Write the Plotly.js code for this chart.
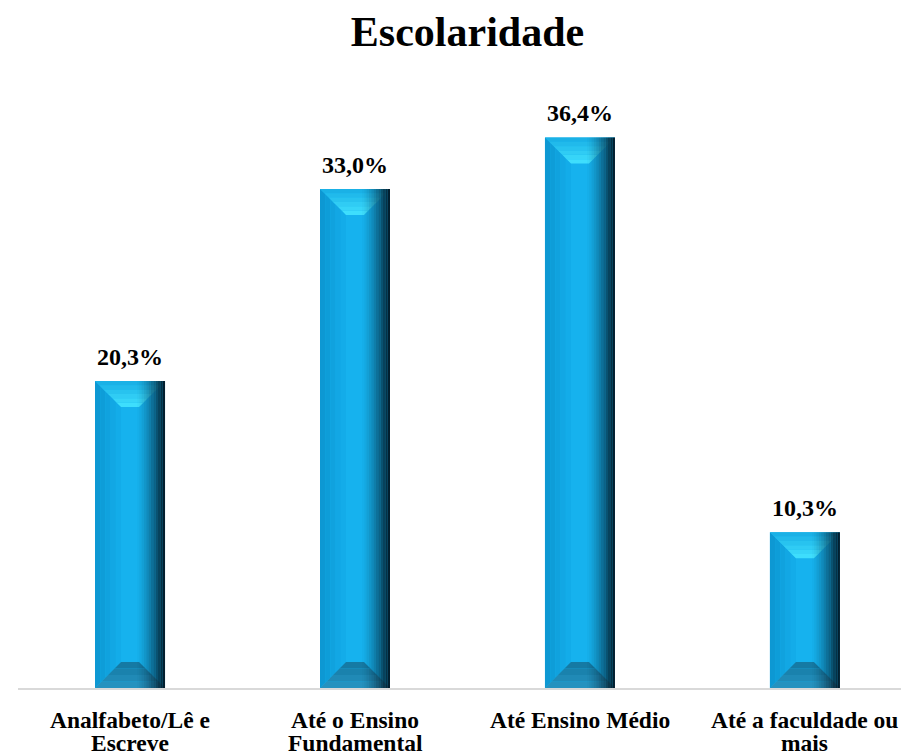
<!DOCTYPE html>
<html>
<head>
<meta charset="utf-8">
<script src="https://cdn.plot.ly/plotly-3.0.1.min.js"></script>
<style>html,body{margin:0;padding:0;background:#fff;}#chart{width:901px;height:755px;}</style>
</head>
<body>
<div id="chart"></div>
<script>
const categories = ["Analfabeto/Lê e<br>Escreve", "Até o Ensino<br>Fundamental", "Até Ensino Médio", "Até a faculdade ou<br>mais"];
const values = [20.3, 33.0, 36.4, 10.3];
const labels = values.map(v => v.toFixed(1).replace('.', ',') + '%');

const FONT = "'Liberation Serif', 'Times New Roman', Times, serif";
const W = 901, H = 755;
const M = {l: 18, r: 0, t: 80, b: 67};
const plotW = W - M.l - M.r, plotH = H - M.t - M.b;
const xRange = [-0.498, 3.427];
const yMax = 40.2;
const xPerPx = (xRange[1] - xRange[0]) / plotW;
const yPerPx = yMax / plotH;
const barW = 70 * xPerPx, half = barW / 2;
const bx = 26 * xPerPx, by = 26 * yPerPx;
const idx = values.map((v, i) => i);

const traces = [];
traces.push({type: 'bar', x: idx, y: values, width: barW, marker: {color: '#16b2ee', line: {width: 0}}, hoverinfo: 'skip'});

function polyTrace(polys, color) {
  const xs = [], ys = [];
  polys.forEach(p => { p.forEach(q => { xs.push(q[0]); ys.push(q[1]); }); xs.push(null); ys.push(null); });
  return {type: 'scatter', mode: 'none', x: xs, y: ys, fill: 'toself', fillcolor: color, hoverinfo: 'skip', showlegend: false};
}
function lerp(a, b, t) { return a + (b - a) * t; }
function mix(c1, c2, t) {
  const r = Math.round(lerp(c1[0], c2[0], t)), g = Math.round(lerp(c1[1], c2[1], t)), b = Math.round(lerp(c1[2], c2[2], t));
  return `rgb(${r},${g},${b})`;
}
// left bevel slices (vertical)
const nL = 5;
for (let k = 0; k < nL; k++) {
  const d0 = k / nL, d1 = (k + 1) / nL;
  const polys = idx.map(i => {
    const v = values[i];
    return [[i - half + d0 * bx, v - d0 * by], [i - half + d1 * bx, v - d1 * by], [i - half + d1 * bx, d1 * by], [i - half + d0 * bx, d0 * by]];
  });
  traces.push(polyTrace(polys, mix([12, 150, 208], [20, 174, 236], (k + 0.5) / nL)));
}
// top bevel slices
const nTop = 6;
for (let k = 0; k < nTop; k++) {
  const d0 = k / nTop, d1 = (k + 1) / nTop;
  const polys = idx.map(i => {
    const v = values[i];
    return [[i - half + d0 * bx, v - d0 * by], [i + half - d0 * bx, v - d0 * by], [i + half - d1 * bx, v - d1 * by], [i - half + d1 * bx, v - d1 * by]];
  });
  traces.push(polyTrace(polys, mix([22, 172, 228], [66, 226, 255], (k + 0.5) / nTop)));
}
// bottom bevel slices
const nBot = 4;
for (let k = 0; k < nBot; k++) {
  const d0 = k / nBot, d1 = (k + 1) / nBot;
  const polys = idx.map(i => [[i - half + d0 * bx, d0 * by], [i + half - d0 * bx, d0 * by], [i + half - d1 * bx, d1 * by], [i - half + d1 * bx, d1 * by]]);
  traces.push(polyTrace(polys, mix([40, 150, 195], [18, 118, 160], (k + 0.5) / nBot)));
}
// right edge shading
const nR = 12, rw = 28 * xPerPx;
for (let k = 0; k < nR; k++) {
  const x0 = half - rw + k * rw / nR, x1 = x0 + rw / nR;
  const a = Math.pow((k + 1) / nR, 1.5) * 0.88;
  const polys = idx.map(i => [[i + x0, 0], [i + x1, 0], [i + x1, values[i]], [i + x0, values[i]]]);
  traces.push(polyTrace(polys, `rgba(0,10,20,${a.toFixed(3)})`));
}

const annotations = idx.map(i => ({
  x: i, y: values[i], xref: 'x', yref: 'y', text: '<b>' + labels[i] + '</b>', showarrow: false,
  yanchor: 'bottom', yshift: 9,
  font: {family: FONT, size: 24, color: '#000'}
}));
// category labels, one annotation per line
categories.forEach((c, i) => {
  c.split('<br>').forEach((line, j) => {
    annotations.push({
      x: i, y: 0, xref: 'x', yref: 'paper', text: '<b>' + line + '</b>', showarrow: false,
      yanchor: 'top', yshift: -17 - 23 * j,
      font: {family: FONT, size: 23.5, color: '#000'}
    });
  });
});

const layout = {
  width: W, height: H,
  margin: M,
  paper_bgcolor: '#fff', plot_bgcolor: '#fff',
  showlegend: false,
  barmode: 'overlay',
  title: {text: '<b>Escolaridade</b>', x: 467.5 / W, xanchor: 'center', y: 1 - 31 / H, yref: 'container', yanchor: 'middle',
    font: {family: FONT, size: 42, color: '#000'}},
  xaxis: {range: xRange, showticklabels: false, showgrid: false, zeroline: false,
    showline: true, linecolor: '#d9d9d9', linewidth: 1.5, ticks: '', fixedrange: true},
  yaxis: {range: [0, yMax], visible: false, showgrid: false, zeroline: false, fixedrange: true},
  annotations: annotations
};
Plotly.newPlot('chart', traces, layout, {displayModeBar: false, staticPlot: true});
</script>
</body>
</html>
